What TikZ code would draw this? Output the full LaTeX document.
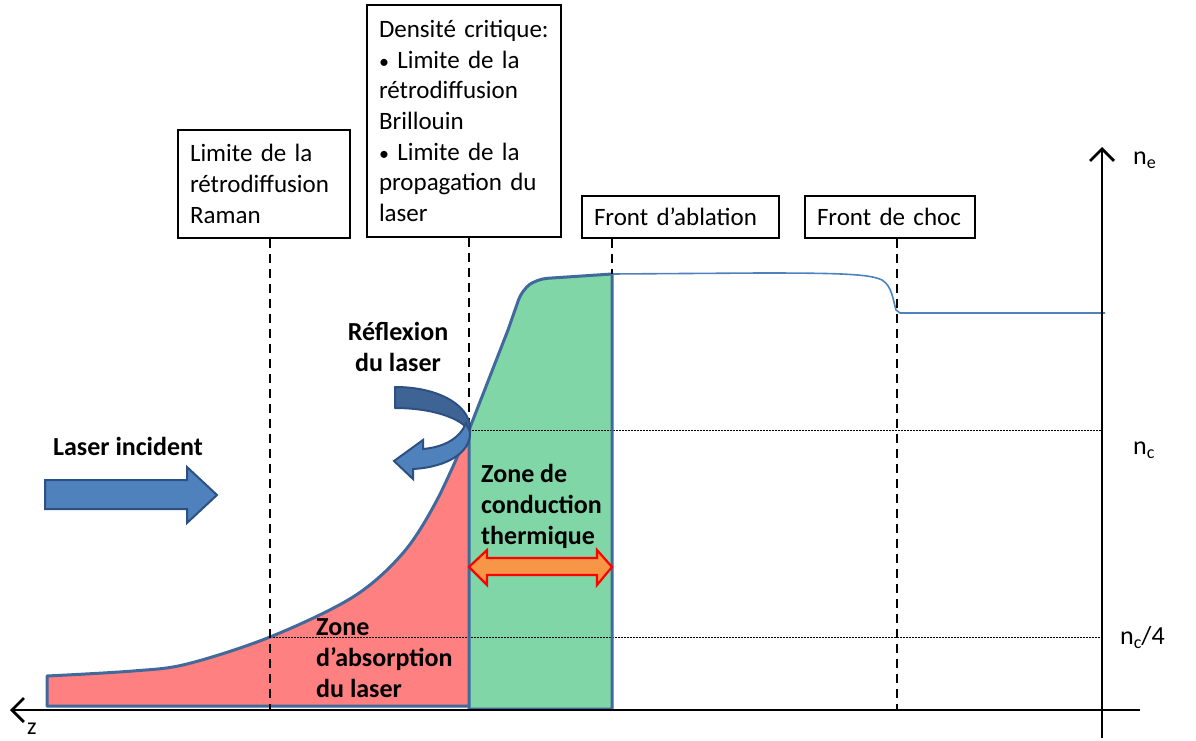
\documentclass[tikz,border=0pt]{standalone}
\usepackage{fontspec}
\setmainfont{Carlito}
\usetikzlibrary{arrows.meta}
\hyphenpenalty=10000
\exhyphenpenalty=10000
\definecolor{redfill}{RGB}{255,128,128}
\definecolor{greenfill}{RGB}{128,214,166}
\definecolor{outl}{RGB}{65,105,155}
\definecolor{thinblue}{RGB}{79,129,189}
\definecolor{arrowfill}{RGB}{79,129,189}
\definecolor{arrowdark}{RGB}{62,100,150}
\definecolor{arrowline}{RGB}{45,80,130}
\definecolor{orangefill}{RGB}{247,150,70}
\newcommand{\sbs}[1]{\raisebox{-4pt}{\fontsize{18}{18}\selectfont #1}}
\newcommand{\bul}{{\fontsize{20}{20}\selectfont •}}
\tikzset{
  txt/.style={font=\fontsize{26}{30.5}\selectfont, inner sep=0pt},
  btxt/.style={font=\fontsize{26}{31}\selectfont\bfseries, inner sep=0pt, align=left},
  infobox/.style={draw=black, line width=1.2pt, font=\fontsize{25}{30.7}\selectfont, align=left, inner xsep=12pt, inner ysep=0pt},
  vdash/.style={draw=black, line width=2.8pt, dash pattern=on 9pt off 6pt},
  hdot/.style={draw=black, line width=1pt, dash pattern=on 1.5pt off 1.5pt},
  axis/.style={draw=black, line width=2.8pt, -{Straight Barb[length=12pt,width=24pt]}},
}
\begin{document}
\begin{tikzpicture}[x=1pt,y=-1pt]
\useasboundingbox (0,0) rectangle (1196,741);

% boxes
\node[infobox, minimum width=172pt, minimum height=108pt, text width=148pt] (raman) at (264,184) {Limite de la\\rétrodiffusion\\Raman};
\node[infobox, minimum width=192pt, minimum height=232pt, text width=170pt] (crit) at (464,121) {Densité critique:\\\bul\ Limite de la\\rétrodiffusion\\Brillouin\\\bul\ Limite de la\\propagation du\\laser};
\node[infobox, minimum width=197pt, minimum height=42pt, text width=173pt] (abl) at (680.5,217) {Front d’ablation};
\node[infobox, minimum width=170pt, minimum height=42pt, text width=146pt] (choc) at (890,217) {Front de choc};

% coordinates
\coordinate (ra) at (270,710);
\coordinate (cr) at (469,430);
\coordinate (ab) at (612,274);
\coordinate (ch) at (897,710);
\coordinate (z0) at (1140,710);
\coordinate (z1) at (10,710);
\coordinate (y0) at (1102,738);
\coordinate (y1) at (1102,147);
\coordinate (q1) at (270,637);

% red absorption zone
\fill[redfill] (469,706) -- (47,706) -- (47,676)
  -- plot[smooth, tension=0.55] coordinates {(47,676) (133,671) (187,664) (270,637) (353,597) (403,553) (437,500) (469,430)} -- cycle;
% green conduction zone
\fill[greenfill] (469,430) -- (469,709) -- (612,709) -- (612,274)
  [rounded corners=10pt] -- (537,279) -- (522,290) [sharp corners] -- (508,330) -- cycle;

% dotted levels
\draw[hdot] (cr) -- (cr -| y0);
\draw[hdot] (q1) -- (q1 -| y0);

% outlines
\draw[outl, line width=3pt, line join=round] (469,706) -- (47,706) -- (47,676)
  -- plot[smooth, tension=0.55] coordinates {(47,676) (133,671) (187,664) (270,637) (353,597) (403,553) (437,500) (469,430)};
\draw[outl, line width=3pt, line join=round] (469,430) -- (508,330) [rounded corners=10pt] -- (522,290) -- (537,279) [sharp corners] -- (612,274) -- (612,709) -- (469,709) -- (469,430);
\draw[thinblue, line width=1.6pt] (612,274) -- (760,273) .. controls (840,273) and (870,274) .. (882,280)
  .. controls (892,286) and (893,300) .. (896,310) -- (900,313) -- (1105,313);

% dashed markers
\draw[vdash] (raman.south -| ra) -- (ra);
\draw[vdash] (crit.south -| cr) -- (cr);
\draw[vdash] (abl.south -| ab) -- (ab);
\draw[vdash] (choc.south -| ch) -- (ch);

% axes
\draw[axis] (z0) -- (z1);
\draw[axis] (y0) -- (y1);
\node[txt, anchor=base west, font=\fontsize{24}{24}\selectfont] (zl) at (27,734) {z};
\node[txt, anchor=west] (ne) at (1133,160) {n\sbs{e}};
\node[txt, anchor=west] (nc) at (1133,450) {n\sbs{c}};
\node[txt, anchor=west] (nc4) at (1120,638) {n\sbs{c}/4};

% laser incident arrow
\draw[fill=arrowfill, draw=arrowline, line width=2pt, line join=miter]
  (45,480) -- (187,480) -- (187,467) -- (217,495) -- (187,523) -- (187,509) -- (45,509) -- cycle;
\node[btxt] (li) at (128,446) {Laser incident};

% reflection arrow
\draw[fill=arrowdark, draw=arrowline, line width=2pt, line join=round]
  (395,387) .. controls (442,387) and (473,408) .. (470,432)
  .. controls (462,418) and (432,408) .. (395,408) -- cycle;
\draw[fill=arrowfill, draw=arrowline, line width=2pt, line join=miter]
  (466,423) .. controls (460,438) and (445,447) .. (423,449) -- (423,440) -- (394,461) -- (413,479) -- (413,469)
  .. controls (448,467) and (471,452) .. (470,432) -- cycle;
\node[btxt, align=center] (refl) at (398,347) {Réflexion\\du laser};

% thermal conduction double arrow
\draw[fill=orangefill, draw=red, line width=2.2pt, line join=miter]
  (469,567) -- (487,550) -- (487,558) -- (597,558) -- (597,550) -- (612,567) -- (597,585) -- (597,575) -- (487,575) -- (487,585) -- cycle;
\node[btxt, anchor=north west] (zc) at (481,464) {Zone de\\conduction\\thermique};
\node[btxt, anchor=north west] (za) at (316,618) {Zone\\d’absorption\\du laser};
\end{tikzpicture}
\end{document}
